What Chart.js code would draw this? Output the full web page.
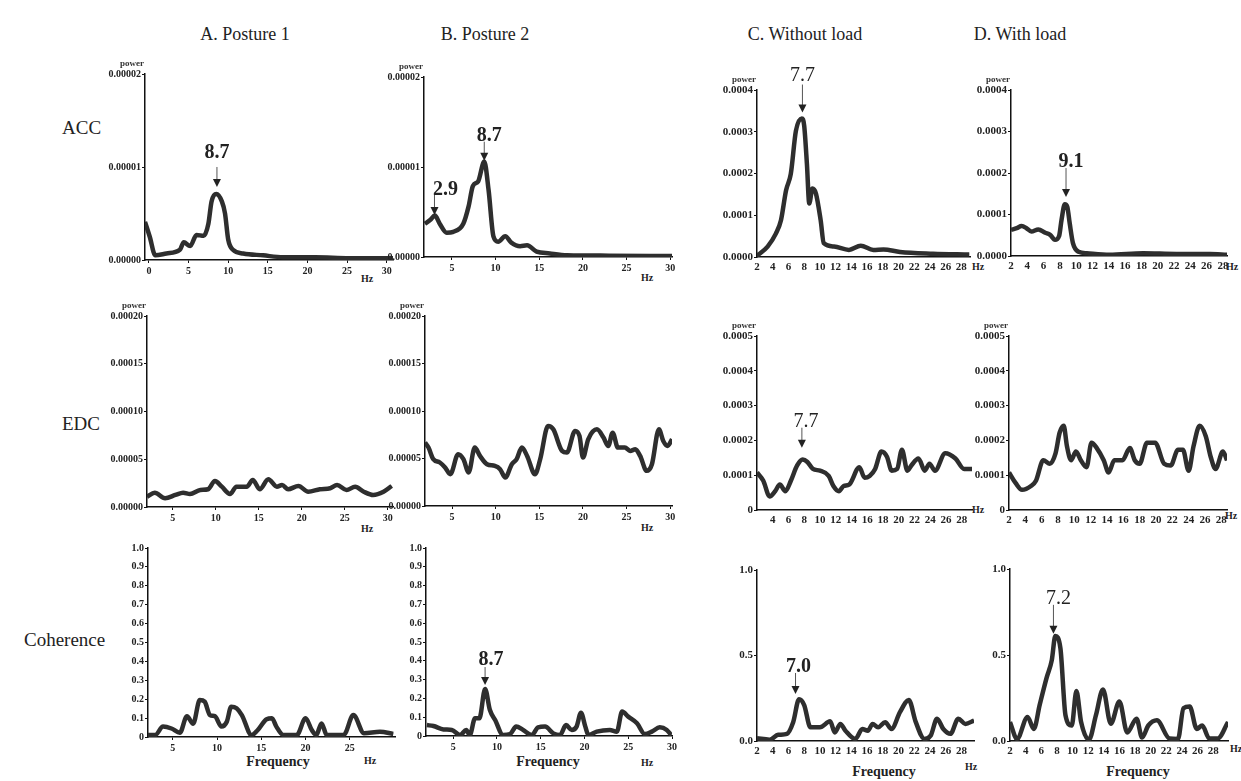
<!DOCTYPE html>
<html>
<head>
<meta charset="UTF-8">
<title>Power spectra and coherence</title>
<script src="https://cdn.jsdelivr.net/npm/chart.js@4.4.1/dist/chart.umd.min.js"></script>
<style>
    body { margin: 0; width: 1241px; height: 781px; background: #fff; position: relative; overflow: hidden;
           font-family: 'Liberation Serif', 'DejaVu Serif', serif; color: #222; }
    canvas { position: absolute; }
    .t { position: absolute; white-space: nowrap; transform: translate(-50%, -50%); }
    .title { font-size: 18px; }
    .row { font-size: 19px; transform: translate(0, -50%); }
    .hz { font-size: 10px; font-weight: bold; }
    .freq { font-size: 14px; font-weight: bold; }
</style>
</head>
<body>

<div class="t title" style="left:245px; top:34px;">A. Posture 1</div>
<div class="t title" style="left:485px; top:34px;">B. Posture 2</div>
<div class="t title" style="left:805px; top:34px;">C. Without load</div>
<div class="t title" style="left:1020px; top:34px;">D. With load</div>

<div class="t row" style="left:62px; top:128px;">ACC</div>
<div class="t row" style="left:62px; top:424px;">EDC</div>
<div class="t row" style="left:24px; top:640px;">Coherence</div>

<div class="t hz" style="left:367px; top:278px;">Hz</div>
<div class="t hz" style="left:647px; top:277px;">Hz</div>
<div class="t hz" style="left:978px; top:266px;">Hz</div>
<div class="t hz" style="left:1232px; top:266px;">Hz</div>
<div class="t hz" style="left:367px; top:528px;">Hz</div>
<div class="t hz" style="left:647px; top:527px;">Hz</div>
<div class="t hz" style="left:978px; top:509px;">Hz</div>
<div class="t hz" style="left:1231px; top:515px;">Hz</div>
<div class="t hz" style="left:370px; top:760px;">Hz</div>
<div class="t hz" style="left:647px; top:762px;">Hz</div>
<div class="t hz" style="left:971px; top:766px;">Hz</div>
<div class="t hz" style="left:1236px; top:748px;">Hz</div>

<div class="t freq" style="left:278px; top:762px;">Frequency</div>
<div class="t freq" style="left:548px; top:762px;">Frequency</div>
<div class="t freq" style="left:884px; top:772px;">Frequency</div>
<div class="t freq" style="left:1138px; top:772px;">Frequency</div>

<canvas id="accA"></canvas>
<canvas id="accB"></canvas>
<canvas id="accC"></canvas>
<canvas id="accD"></canvas>
<canvas id="edcA"></canvas>
<canvas id="edcB"></canvas>
<canvas id="edcC"></canvas>
<canvas id="edcD"></canvas>
<canvas id="cohA"></canvas>
<canvas id="cohB"></canvas>
<canvas id="cohC"></canvas>
<canvas id="cohD"></canvas>

<script>
// ---- ACC power spectra ----
var accAHz  = [-0.5, 0.1, 0.8, 2.2, 3.9, 4.4, 5.2, 6.0, 6.9, 7.5, 7.9, 8.5, 9.2, 9.6, 10.0, 10.6, 11.9, 14.4, 16.9, 21, 25.3, 30.8];
var accAPow = [0.41e-5, 0.25e-5, 0.05e-5, 0.07e-5, 0.11e-5, 0.19e-5, 0.15e-5, 0.27e-5, 0.26e-5, 0.39e-5, 0.63e-5, 0.71e-5,
               0.63e-5, 0.50e-5, 0.22e-5, 0.11e-5, 0.07e-5, 0.05e-5, 0.03e-5, 0.03e-5, 0.02e-5, 0.02e-5];

var accBHz  = [1.9, 2.5, 3.05, 3.6, 4.4, 5.15, 6.3, 6.9, 7.4, 8.0, 8.7, 9.2, 9.75, 10.3, 11.1, 11.8, 12.8, 13.6, 14.7, 16.2, 18.2, 23, 30.2];
var accBPow = [0.37e-5, 0.41e-5, 0.46e-5, 0.37e-5, 0.27e-5, 0.28e-5, 0.37e-5, 0.56e-5, 0.79e-5, 0.84e-5, 1.06e-5, 0.74e-5,
               0.23e-5, 0.17e-5, 0.23e-5, 0.16e-5, 0.12e-5, 0.13e-5, 0.06e-5, 0.04e-5, 0.02e-5, 0.015e-5, 0.01e-5];

var accCHz  = [2.0, 3.35, 4.4, 5.05, 5.7, 6.3, 6.95, 7.7, 8.0, 8.35, 8.65, 9.05, 9.5, 10.1, 10.5, 11.8, 13.7, 15.2, 16.8, 18.1, 20.2, 24.4, 29.0];
var accCPow = [0.03e-4, 0.25e-4, 0.56e-4, 0.88e-4, 1.6e-4, 1.99e-4, 3.02e-4, 3.32e-4, 3.15e-4, 2.23e-4, 1.28e-4, 1.64e-4,
               1.52e-4, 0.88e-4, 0.33e-4, 0.25e-4, 0.17e-4, 0.27e-4, 0.17e-4, 0.18e-4, 0.12e-4, 0.08e-4, 0.06e-4];

var accDHz  = [2.0, 2.7, 3.3, 3.9, 4.5, 5.35, 6.2, 6.8, 7.4, 7.9, 8.2, 8.6, 8.9, 9.2, 9.6, 10.3, 11.3, 14.1, 18.2, 22.3, 26.4, 28.5];
var accDPow = [0.63e-4, 0.67e-4, 0.72e-4, 0.67e-4, 0.59e-4, 0.64e-4, 0.56e-4, 0.51e-4, 0.39e-4, 0.48e-4, 0.87e-4, 1.25e-4,
               1.19e-4, 0.79e-4, 0.31e-4, 0.10e-4, 0.065e-4, 0.03e-4, 0.065e-4, 0.05e-4, 0.05e-4, 0.03e-4];

// ---- EDC power spectra ----
var edcAHz  = [2.0, 2.9, 4.1, 5.3, 6.2, 7.0, 8.2, 9.1, 9.9, 10.7, 11.65, 12.4, 13.6, 14.3, 15.1, 16.1, 17.1, 17.7, 18.4, 19.6,
               20.75, 22.1, 23.3, 24.1, 25.2, 26.2, 27.2, 28.3, 29.5, 30.45];
var edcAPow = [1.08e-5, 1.5e-5, 0.91e-5, 1.26e-5, 1.5e-5, 1.36e-5, 1.78e-5, 1.86e-5, 2.73e-5, 2.13e-5, 1.36e-5, 2.13e-5,
               2.13e-5, 2.83e-5, 1.86e-5, 2.9e-5, 2.13e-5, 2.3e-5, 1.86e-5, 2.2e-5, 1.6e-5, 1.86e-5, 1.96e-5, 2.3e-5,
               1.78e-5, 2.13e-5, 1.6e-5, 1.26e-5, 1.6e-5, 2.2e-5];

var edcBHz  = [1.9, 2.3, 2.85, 3.6, 4.2, 4.8, 5.7, 6.3, 6.9, 7.6, 8.2, 9.0, 9.9, 10.5, 11.1, 11.85, 12.4, 13.0, 13.6, 14.5,
               15.1, 16.0, 16.6, 17.6, 18.15, 19.1, 19.6, 20.0, 20.6, 21.6, 22.35, 22.9, 23.4, 24.0, 24.8, 25.4, 26.0,
               26.55, 27.3, 27.9, 28.7, 29.2, 29.7, 30.2];
var edcBPow = [6.68e-5, 6.15e-5, 4.93e-5, 4.58e-5, 4.06e-5, 3.35e-5, 5.45e-5, 4.93e-5, 3.53e-5, 6.15e-5, 5.27e-5, 4.4e-5,
               4.22e-5, 3.88e-5, 3.0e-5, 4.4e-5, 4.93e-5, 6.15e-5, 5.27e-5, 3.35e-5, 4.93e-5, 8.42e-5, 8.07e-5, 5.8e-5,
               5.62e-5, 7.9e-5, 7.37e-5, 5.1e-5, 7.02e-5, 8.07e-5, 7.2e-5, 6.32e-5, 7.72e-5, 6.15e-5, 6.15e-5, 5.8e-5,
               5.97e-5, 5.27e-5, 3.7e-5, 4.4e-5, 8.07e-5, 6.85e-5, 6.32e-5, 7.02e-5];

var edcCHz  = [2.0, 2.8, 3.6, 4.3, 4.9, 5.6, 6.3, 7.1, 7.8, 8.4, 9.1, 10.0, 11.1, 11.7, 12.4, 13.0, 13.7, 15.0, 15.65, 16.3,
               17.0, 17.8, 18.5, 19.1, 19.8, 20.4, 21.1, 21.6, 22.5, 23.3, 23.9, 24.6, 25.9, 27.2, 28.3, 29.3];
var edcCPow = [1.08e-4, 0.84e-4, 0.39e-4, 0.54e-4, 0.73e-4, 0.54e-4, 0.84e-4, 1.28e-4, 1.45e-4, 1.38e-4, 1.18e-4, 1.13e-4,
               0.98e-4, 0.69e-4, 0.54e-4, 0.69e-4, 0.73e-4, 1.23e-4, 0.93e-4, 0.98e-4, 1.18e-4, 1.68e-4, 1.53e-4, 1.13e-4,
               1.18e-4, 1.73e-4, 1.13e-4, 1.28e-4, 1.48e-4, 1.13e-4, 1.33e-4, 1.13e-4, 1.63e-4, 1.48e-4, 1.18e-4, 1.18e-4];

var edcDHz  = [2.0, 2.8, 3.6, 4.7, 5.3, 6.2, 7.0, 7.7, 8.2, 8.7, 9.1, 9.6, 10.2, 10.8, 11.5, 12.1, 12.75, 13.6, 14.2, 14.9,
               15.9, 16.8, 17.4, 18.0, 18.9, 19.9, 21.0, 21.8, 22.7, 23.3, 24.0, 24.6, 25.35, 26.1, 26.7, 27.3, 28.2, 28.7];
var edcDPow = [1.08e-4, 0.78e-4, 0.58e-4, 0.69e-4, 0.84e-4, 1.43e-4, 1.33e-4, 1.63e-4, 2.22e-4, 2.42e-4, 1.83e-4, 1.43e-4,
               1.68e-4, 1.43e-4, 1.23e-4, 1.93e-4, 1.78e-4, 1.43e-4, 1.08e-4, 1.43e-4, 1.43e-4, 1.78e-4, 1.43e-4, 1.33e-4,
               1.93e-4, 1.93e-4, 1.33e-4, 1.28e-4, 1.73e-4, 1.73e-4, 1.13e-4, 1.83e-4, 2.42e-4, 2.12e-4, 1.53e-4, 1.18e-4,
               1.68e-4, 1.43e-4];

// ---- coherence ----
var cohAHz = [2.2, 3.0, 3.9, 4.85, 5.8, 6.6, 7.3, 8.05, 8.6, 9.2, 9.75, 10.5, 11.1, 11.6, 12.2, 12.8, 13.9, 14.6, 15.6, 16.2,
              16.7, 17.5, 19.0, 20.0, 20.7, 21.2, 21.8, 22.4, 24.3, 25.4, 26.6, 28.4, 29.9];
var cohAVal = [0.01, 0.01, 0.055, 0.045, 0.023, 0.11, 0.07, 0.196, 0.187, 0.116, 0.11, 0.055, 0.081, 0.16, 0.152, 0.116,
               0.01, 0.037, 0.094, 0.099, 0.055, 0.01, 0.01, 0.099, 0.037, 0.01, 0.072, 0.01, 0.01, 0.116, 0.02, 0.028, 0.016];

var cohBHz = [2.0, 2.75, 3.9, 4.85, 5.8, 6.5, 6.9, 7.5, 8.0, 8.65, 9.2, 9.8, 10.7, 11.5, 12.2, 13.0, 14.0, 14.7, 15.5, 16.45,
              17.2, 17.9, 18.55, 19.1, 19.6, 20.1, 20.45, 21.4, 22.9, 23.7, 24.3, 25.0, 26.0, 26.9, 27.7, 28.6, 29.4, 29.9];
var cohBVal = [0.058, 0.053, 0.035, 0.032, 0.005, 0.032, 0.005, 0.094, 0.094, 0.25, 0.138, 0.085, 0.005, 0.01, 0.05, 0.032,
               0.005, 0.046, 0.05, 0.014, 0.005, 0.058, 0.032, 0.05, 0.124, 0.05, 0.005, 0.023, 0.032, 0.023, 0.13, 0.103,
               0.068, 0.01, 0.023, 0.046, 0.032, 0.005];

var cohCHz = [2.0, 3.6, 4.7, 5.8, 6.6, 7.35, 8.0, 8.8, 10.0, 11.3, 11.9, 12.6, 13.25, 14.5, 15.4, 16.1, 16.7, 17.4, 18.3, 19.1,
              20.2, 21.3, 22.2, 23.3, 24.1, 24.9, 25.7, 26.6, 27.6, 28.5, 29.6];
var cohCVal = [0.016, 0.008, 0.036, 0.042, 0.11, 0.244, 0.21, 0.08, 0.08, 0.115, 0.05, 0.1, 0.06, 0.012, 0.07, 0.06, 0.1,
               0.08, 0.11, 0.07, 0.17, 0.24, 0.11, 0.012, 0.032, 0.13, 0.07, 0.042, 0.13, 0.1, 0.12];

var cohDHz = [2.0, 2.9, 4.25, 5.05, 5.8, 6.7, 7.35, 7.8, 8.45, 9.1, 9.9, 10.5, 11.1, 12.1, 13.0, 13.9, 14.9, 16.0, 17.0, 18.2,
              18.9, 19.7, 20.8, 22.4, 23.5, 24.2, 25.0, 25.9, 26.6, 27.5, 28.6, 29.9];
var cohDVal = [0.11, 0.012, 0.14, 0.07, 0.21, 0.37, 0.47, 0.61, 0.54, 0.15, 0.09, 0.29, 0.11, 0.008, 0.15, 0.3, 0.1, 0.23,
               0.05, 0.13, 0.02, 0.09, 0.12, 0.015, 0.012, 0.19, 0.2, 0.07, 0.09, 0.015, 0.015, 0.11];

// ---- ticks ----
var xTicksA1  = [0, 5, 10, 15, 20, 25, 30];
var xTicksAB  = [5, 10, 15, 20, 25, 30];
var xTicksCohA = [5, 10, 15, 20, 25];
var xTicksCD  = [2, 4, 6, 8, 10, 12, 14, 16, 18, 20, 22, 24, 26, 28];
var xTicksEdcC = [4, 6, 8, 10, 12, 14, 16, 18, 20, 22, 24, 26, 28];

var yTicksAccAB = [0, 0.00001, 0.00002];
var yLabAccAB   = ['0.00000', '0.00001', '0.00002'];
var yTicksAccCD = [0, 0.0001, 0.0002, 0.0003, 0.0004];
var yLabAccCD   = ['0.0000', '0.0001', '0.0002', '0.0003', '0.0004'];
var yTicksEdcAB = [0, 0.00005, 0.0001, 0.00015, 0.0002];
var yLabEdcAB   = ['0.00000', '0.00005', '0.00010', '0.00015', '0.00020'];
var yTicksEdcCD = [0, 0.0001, 0.0002, 0.0003, 0.0004, 0.0005];
var yLabEdcCD   = ['0', '0.0001', '0.0002', '0.0003', '0.0004', '0.0005'];
var yTicksCohAB = [0, 0.1, 0.2, 0.3, 0.4, 0.5, 0.6, 0.7, 0.8, 0.9, 1.0];
var yLabCohAB   = ['0', '0.1', '0.2', '0.3', '0.4', '0.5', '0.6', '0.7', '0.8', '0.9', '1.0'];
var yTicksCohCD = [0, 0.5, 1.0];
var yLabCohCD   = ['0.0', '0.5', '1.0'];

// ---- peak markers (frequency, value at arrow tip, label) ----
var notesAccA = [{ x: 8.58, y: 0.785e-5, text: '8.7', len: 20, lift: 9, dx: 0, bold: true }];
var notesAccB = [{ x: 3.0, y: 0.467e-5, text: '2.9', len: 20, lift: 0, dx: 11, bold: true },
                 { x: 8.7, y: 1.07e-5, text: '8.7', len: 19, lift: 1, dx: 5, bold: true }];
var notesAccC = [{ x: 7.78, y: 3.46e-4, text: '7.7', len: 28, lift: 4, dx: 0, bold: false }];
var notesAccD = [{ x: 8.75, y: 1.42e-4, text: '9.1', len: 29, lift: 1, dx: 5, bold: true }];
var notesEdcC = [{ x: 7.7, y: 1.79e-4, text: '7.7', len: 20, lift: 1, dx: 4, bold: false }];
var notesCohB = [{ x: 8.65, y: 0.271, text: '8.7', len: 18, lift: 2, dx: 6, bold: true }];
var notesCohC = [{ x: 6.9, y: 0.275, text: '7.0', len: 21, lift: 1, dx: 3, bold: true }];
var notesCohD = [{ x: 7.56, y: 0.623, text: '7.2', len: 29, lift: 1, dx: 5, bold: false }];

var FONT = "'Liberation Serif', 'DejaVu Serif', serif";
var YW = 52, PT = 34, PR = 14, XH = 24;

// arrows, labels and the little "power" caption
var marks = {
    id: 'marks',
    afterDatasetsDraw: function(chart, args, o) {
        var ctx = chart.ctx, xs = chart.scales.x, ys = chart.scales.y, a = chart.chartArea;
        ctx.save();
        if (o.power) {
            ctx.font = 'bold 9px ' + FONT;
            ctx.fillStyle = '#333';
            ctx.textAlign = 'right';
            ctx.textBaseline = 'alphabetic';
            ctx.fillText('power', a.left - 1, a.top - 8);
        }
        (o.notes || []).forEach(function(n) {
            var px = xs.getPixelForValue(n.x), py = ys.getPixelForValue(n.y);
            var top = py - n.len;
            ctx.strokeStyle = '#555';
            ctx.lineWidth = 1;
            ctx.beginPath(); ctx.moveTo(px, top); ctx.lineTo(px, py - 6); ctx.stroke();
            ctx.fillStyle = '#222';
            ctx.beginPath(); ctx.moveTo(px - 4, py - 8); ctx.lineTo(px + 4, py - 8); ctx.lineTo(px, py); ctx.closePath(); ctx.fill();
            ctx.font = (n.bold ? 'bold ' : '') + '20px ' + FONT;
            ctx.textAlign = 'center';
            ctx.textBaseline = 'alphabetic';
            ctx.fillText(n.text, px + n.dx, top - n.lift);
        });
        ctx.restore();
    }
};

function panel(id, p) {
    var L = p.area[0], T = p.area[1], R = p.area[2], B = p.area[3];
    var cv = document.getElementById(id);
    cv.width = YW + (R - L) + PR;
    cv.height = PT + (B - T) + XH;
    cv.style.left = (L - YW) + 'px';
    cv.style.top = (T - PT) + 'px';
    var pts = p.hz.map(function(f, i) { return { x: f, y: p.val[i] }; });
    new Chart(cv, {
        type: 'line',
        data: {
            datasets: [
                { data: pts, borderColor: '#2e2e2e', borderWidth: 4.5, pointRadius: 0, cubicInterpolationMode: 'monotone' },
                { data: pts, borderColor: '#7d7d7d', borderWidth: 2, pointRadius: 0, cubicInterpolationMode: 'monotone' }
            ]
        },
        options: {
            responsive: false,
            animation: false,
            events: [],
            layout: { padding: { left: 0, top: PT, right: PR, bottom: 0 } },
            plugins: {
                legend: { display: false },
                tooltip: { enabled: false },
                marks: { power: p.power, notes: p.notes }
            },
            scales: {
                x: {
                    type: 'linear', min: p.x[0], max: p.x[1],
                    afterBuildTicks: function(s) { s.ticks = p.xt.map(function(v) { return { value: v }; }); },
                    afterFit: function(s) { s.height = XH; },
                    border: { display: true, color: '#111', width: 1.5 },
                    grid: { drawOnChartArea: false, drawTicks: p.xMarks, tickLength: 3, color: '#111' },
                    ticks: { autoSkip: false, maxRotation: 0, padding: p.xMarks ? 2 : 4, color: '#222',
                             font: { family: FONT, size: p.fs, weight: 'bold' },
                             callback: function(v) { return String(v); } }
                },
                y: {
                    type: 'linear', min: p.y[0], max: p.y[1],
                    afterBuildTicks: function(s) { s.ticks = p.yt.map(function(v) { return { value: v }; }); },
                    afterFit: function(s) { s.width = YW; },
                    border: { display: true, color: '#111', width: 1.5 },
                    grid: { drawOnChartArea: false, drawTicks: true, tickLength: 3, color: '#111' },
                    ticks: { padding: 1, color: '#222',
                             font: { family: FONT, size: p.fs, weight: 'bold' },
                             callback: function(v, i) { return p.yl[i]; } }
                }
            }
        },
        plugins: [marks]
    });
}

// row 1: ACC
panel('accA', { hz: accAHz, val: accAPow, area: [145, 74, 393, 260], x: [-0.5, 30.8], y: [0, 0.00002],
                xt: xTicksA1, yt: yTicksAccAB, yl: yLabAccAB, notes: notesAccA, power: true, xMarks: true, fs: 10 });
panel('accB', { hz: accBHz, val: accBPow, area: [424, 77, 672, 257], x: [1.8, 30.2], y: [0, 0.00002],
                xt: xTicksAB, yt: yTicksAccAB, yl: yLabAccAB, notes: notesAccB, power: true, xMarks: true, fs: 10 });
panel('accC', { hz: accCHz, val: accCPow, area: [757, 90, 970, 257], x: [2, 29.1], y: [0, 0.0004],
                xt: xTicksCD, yt: yTicksAccCD, yl: yLabAccCD, notes: notesAccC, power: true, xMarks: false, fs: 11 });
panel('accD', { hz: accDHz, val: accDPow, area: [1011, 90, 1227, 256], x: [2, 28.5], y: [0, 0.0004],
                xt: xTicksCD, yt: yTicksAccCD, yl: yLabAccCD, notes: notesAccD, power: true, xMarks: false, fs: 11 });

// row 2: EDC
panel('edcA', { hz: edcAHz, val: edcAPow, area: [147, 316, 393, 507], x: [2, 30.6], y: [0, 0.0002],
                xt: xTicksAB, yt: yTicksEdcAB, yl: yLabEdcAB, notes: [], power: true, xMarks: true, fs: 10 });
panel('edcB', { hz: edcBHz, val: edcBPow, area: [425, 316, 672, 506], x: [1.9, 30.2], y: [0, 0.0002],
                xt: xTicksAB, yt: yTicksEdcAB, yl: yLabEdcAB, notes: [], power: true, xMarks: true, fs: 10 });
panel('edcC', { hz: edcCHz, val: edcCPow, area: [757, 336, 972, 510], x: [2, 29.3], y: [0, 0.0005],
                xt: xTicksEdcC, yt: yTicksEdcCD, yl: yLabEdcCD, notes: notesEdcC, power: true, xMarks: false, fs: 11 });
panel('edcD', { hz: edcDHz, val: edcDPow, area: [1009, 336, 1227, 510], x: [2, 28.7], y: [0, 0.0005],
                xt: xTicksCD, yt: yTicksEdcCD, yl: yLabEdcCD, notes: [], power: true, xMarks: false, fs: 11 });

// row 3: coherence
panel('cohA', { hz: cohAHz, val: cohAVal, area: [148, 548, 395, 737], x: [2.2, 30.1], y: [0, 1],
                xt: xTicksCohA, yt: yTicksCohAB, yl: yLabCohAB, notes: [], power: false, xMarks: true, fs: 10 });
panel('cohB', { hz: cohBHz, val: cohBVal, area: [426, 548, 672, 736], x: [1.9, 30], y: [0, 1],
                xt: xTicksAB, yt: yTicksCohAB, yl: yLabCohAB, notes: notesCohB, power: false, xMarks: true, fs: 10 });
panel('cohC', { hz: cohCHz, val: cohCVal, area: [757, 570, 974, 741], x: [2, 29.6], y: [0, 1],
                xt: xTicksCD, yt: yTicksCohCD, yl: yLabCohCD, notes: notesCohC, power: false, xMarks: false, fs: 11 });
panel('cohD', { hz: cohDHz, val: cohDVal, area: [1010, 569, 1228, 741], x: [2, 29.9], y: [0, 1],
                xt: xTicksCD, yt: yTicksCohCD, yl: yLabCohCD, notes: notesCohD, power: false, xMarks: false, fs: 11 });
</script>
</body>
</html>
